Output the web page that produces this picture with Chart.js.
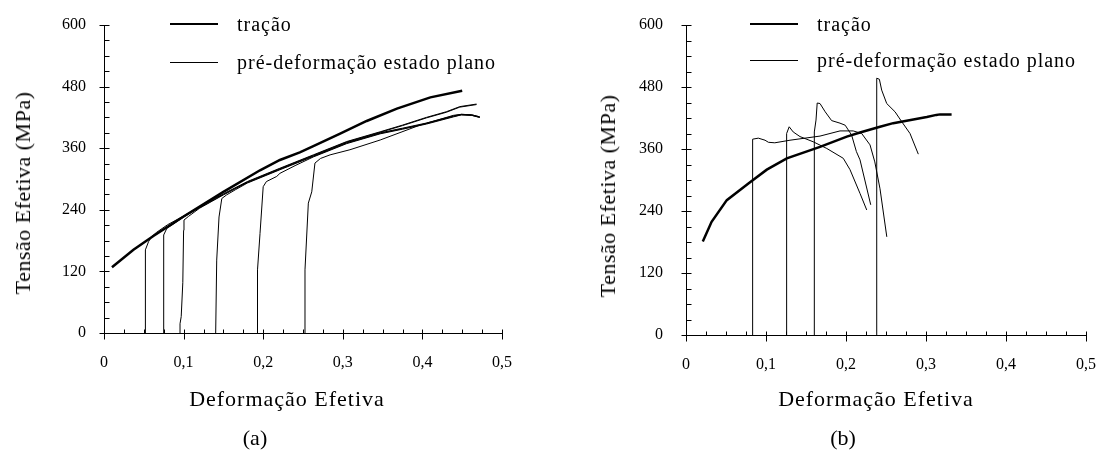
<!DOCTYPE html>
<html lang="pt">
<head>
<meta charset="utf-8">
<title>Tensão x Deformação Efetiva</title>
<script src="https://cdn.jsdelivr.net/npm/chart.js@4/dist/chart.umd.min.js"></script>
<style>
  body { margin: 0; background: #fff; }
  #wrap { position: relative; width: 1100px; height: 459px; overflow: hidden;
          font-family: "Liberation Serif", "Times New Roman", serif; color: #000; }
  canvas { position: absolute; top: 0; }
  .txt { position: absolute; white-space: nowrap; transform: translate(-50%, -50%); line-height: 1; }
  .ytitle { transform: translate(-50%, -50%) rotate(-90deg); font-size: 22px; letter-spacing: 0.5px; }
  .xtitle { font-size: 22px; letter-spacing: 1px; }
  .caption { font-size: 22px; }
  .leg { position: absolute; height: 24px; display: flex; align-items: center; font-size: 20px; letter-spacing: 1px; }
  .leg span.line { display: inline-block; width: 48px; margin-right: 19px; border-top: 1px solid #000; }
  .leg span.thick { border-top-width: 2.5px; }
</style>
</head>
<body>
<div id="wrap">
  <canvas id="chartA" width="550" height="459" style="left:0"></canvas>
  <canvas id="chartB" width="550" height="459" style="left:550px"></canvas>

  <div class="txt ytitle" style="left:23px; top:193px">Tensão Efetiva (MPa)</div>
  <div class="txt xtitle" style="left:287px; top:399px">Deformação Efetiva</div>
  <div class="txt caption" style="left:255px; top:438px">(a)</div>
  <div class="leg" style="left:170px; top:12px"><span class="line thick"></span>tração</div>
  <div class="leg" style="left:170px; top:50px"><span class="line"></span>pré-deformação estado plano</div>

  <div class="txt ytitle" style="left:608px; top:196px">Tensão Efetiva (MPa)</div>
  <div class="txt xtitle" style="left:876px; top:399px">Deformação Efetiva</div>
  <div class="txt caption" style="left:843px; top:438px">(b)</div>
  <div class="leg" style="left:750px; top:12px"><span class="line thick"></span>tração</div>
  <div class="leg" style="left:750px; top:48px"><span class="line"></span>pré-deformação estado plano</div>
</div>

<script>
// axis ticks
const xTickLabels = ['0', '0,1', '0,2', '0,3', '0,4', '0,5'];
const yTickLabels = ['0', '120', '240', '360', '480', '600'];

// (a) tração and the six pre-strained curves  [deformação, tensão MPa]
const tracaoA = [[0.010,128],[0.037,162],[0.062,189],[0.100,227],[0.150,275],[0.196,317],[0.221,337],
  [0.246,352],[0.263,364],[0.296,388],[0.330,413],[0.368,437],[0.410,459],[0.450,472]];
const predefA1 = [[0.052,0],[0.052,162],[0.056,178],[0.060,188],[0.066,196],[0.080,211],[0.100,228],
  [0.120,246],[0.150,271],[0.180,295],[0.221,321],[0.263,347],[0.305,373],[0.347,392],[0.375,405],
  [0.405,420],[0.430,431],[0.447,441],[0.468,446]];
const predefA2 = [[0.075,0],[0.075,191],[0.079,204],[0.087,212],[0.100,226],[0.120,244],[0.150,270],
  [0.180,294],[0.221,320],[0.263,346],[0.305,372],[0.347,391],[0.375,404],[0.405,419],[0.430,430],
  [0.447,440],[0.468,445]];
const predefA3 = [[0.0955,0],[0.0955,18],[0.097,32],[0.099,98],[0.100,200],[0.1005,220],[0.106,227],
  [0.120,243],[0.150,269],[0.180,293],[0.221,319],[0.263,345],[0.305,371],[0.347,390],[0.375,399],
  [0.405,409],[0.439,423],[0.449,426],[0.462,425],[0.472,421]];
const predefA4 = [[0.1403,0],[0.1416,142],[0.1445,226],[0.148,262],[0.154,269],[0.165,279],[0.180,292],
  [0.221,318],[0.263,344],[0.305,370],[0.347,389],[0.375,398],[0.405,408],[0.439,422],[0.449,425],
  [0.462,424],[0.472,420]];
const predefA5 = [[0.1926,0],[0.1926,60],[0.1931,123],[0.196,194],[0.200,285],[0.204,295],[0.217,305],
  [0.221,311],[0.240,326],[0.263,343],[0.305,369],[0.347,388],[0.375,397],[0.405,407],[0.439,421],
  [0.449,425],[0.462,424],[0.472,420]];
const predefA6 = [[0.2525,0],[0.2525,123],[0.2567,253],[0.261,275],[0.265,331],[0.272,340],[0.284,347],
  [0.309,357],[0.347,376],[0.397,405],[0.439,424],[0.449,426],[0.462,425],[0.472,421]];

// (b) tração and the four pre-strained curves
const tracaoB = [[0.021,181],[0.032,219],[0.051,261],[0.078,293],[0.101,320],[0.126,342],[0.1675,364],
  [0.201,384],[0.2175,392],[0.2425,403],[0.259,410],[0.301,422],[0.313,426],[0.3175,427],[0.332,427]];
const predefB1 = [[0.0833,0],[0.0833,379],[0.0904,381],[0.0988,377],[0.103,373],[0.111,372],[0.130,377],
  [0.1675,385],[0.1925,395],[0.209,395],[0.2196,390],[0.230,368],[0.236,335],[0.2425,283],[0.251,190]];
const predefB2 = [[0.1258,0],[0.1258,390],[0.129,403],[0.134,393],[0.1425,384],[0.159,374],[0.176,361],
  [0.1966,342],[0.205,320],[0.2175,274],[0.2259,242]];
const predefB3 = [[0.1604,0],[0.1604,393],[0.1625,416],[0.164,449],[0.1675,448],[0.174,432],[0.182,415],
  [0.1925,410],[0.199,406],[0.207,387],[0.213,355],[0.2175,339],[0.2309,252]];
const predefB4 = [[0.2384,0],[0.2384,497],[0.2417,495],[0.2446,474],[0.2509,448],[0.2613,432],
  [0.2696,413],[0.280,390],[0.2904,350]];

Chart.defaults.font.family = '"Liberation Serif", "Times New Roman", serif';
Chart.defaults.color = '#000';

// small inward ticks like the original plot (quarter steps on x and y)
const innerTicks = {
    id: 'innerTicks',
    afterDraw(chart) {
        const { ctx, scales: { x, y } } = chart;
        const x0 = Math.round(x.getPixelForValue(0)) + 0.5;
        const y0 = Math.round(y.getPixelForValue(0)) + 0.5;
        ctx.save();
        ctx.strokeStyle = '#000';
        ctx.lineWidth = 1;
        ctx.beginPath();
        for (let i = 0; i <= 20; i++) {
            const px = Math.round(x.getPixelForValue(i * 0.025)) + 0.5;
            const major = i % 4 === 0;
            ctx.moveTo(px, y0 - 4);
            ctx.lineTo(px, major ? y0 + 6 : y0);
        }
        for (let i = 0; i <= 20; i++) {
            const py = Math.round(y.getPixelForValue(i * 30)) + 0.5;
            const major = i % 4 === 0;
            ctx.moveTo(major ? x0 - 5 : x0, py);
            ctx.lineTo(x0 + 5, py);
        }
        ctx.stroke();
        ctx.restore();
    }
};

function toXY(points) {
    return points.map(p => ({ x: p[0], y: p[1] }));
}

function curve(points, thick) {
    return {
        data: toXY(points),
        borderColor: '#000',
        borderWidth: thick ? 2.5 : 1,
        pointRadius: 0,
        tension: 0,
        fill: false
    };
}

function buildChart(id, series, layout) {
    const ctx = document.getElementById(id).getContext('2d');
    return new Chart(ctx, {
        type: 'line',
        data: { datasets: series },
        options: {
            responsive: false,
            animation: false,
            layout: { padding: { top: 25, right: layout.right, bottom: 0, left: 0 } },
            plugins: { legend: { display: false }, tooltip: { enabled: false } },
            scales: {
                x: {
                    type: 'linear',
                    min: 0,
                    max: 0.5,
                    grid: { display: false, drawTicks: false },
                    border: { display: true, color: '#000', width: 1 },
                    ticks: {
                        stepSize: 0.1,
                        padding: 20,
                        maxRotation: 0,
                        font: { size: 16 },
                        callback: (v, i) => xTickLabels[i]
                    },
                    // fixed axis height, and no extra label padding so the plot edges stay put
                    afterFit: s => { s.height = layout.bottom; s.paddingLeft = 0; s.paddingRight = 0; }
                },
                y: {
                    type: 'linear',
                    min: 0,
                    max: 600,
                    grid: { display: false, drawTicks: false },
                    border: { display: true, color: '#000', width: 1 },
                    ticks: {
                        stepSize: 120,
                        padding: layout.labelGap,
                        font: { size: 16 },
                        callback: (v, i) => yTickLabels[i]
                    },
                    afterFit: s => { s.width = layout.left; s.paddingTop = 0; s.paddingBottom = 0; }
                }
            }
        },
        plugins: [innerTicks]
    });
}

buildChart('chartA', [
    curve(tracaoA, true),
    curve(predefA1), curve(predefA2), curve(predefA3),
    curve(predefA4), curve(predefA5), curve(predefA6)
], { left: 104, right: 48, bottom: 126, labelGap: 18 });

buildChart('chartB', [
    curve(tracaoB, true),
    curve(predefB1), curve(predefB2), curve(predefB3), curve(predefB4)
], { left: 136, right: 14, bottom: 124, labelGap: 23 });
</script>
</body>
</html>
